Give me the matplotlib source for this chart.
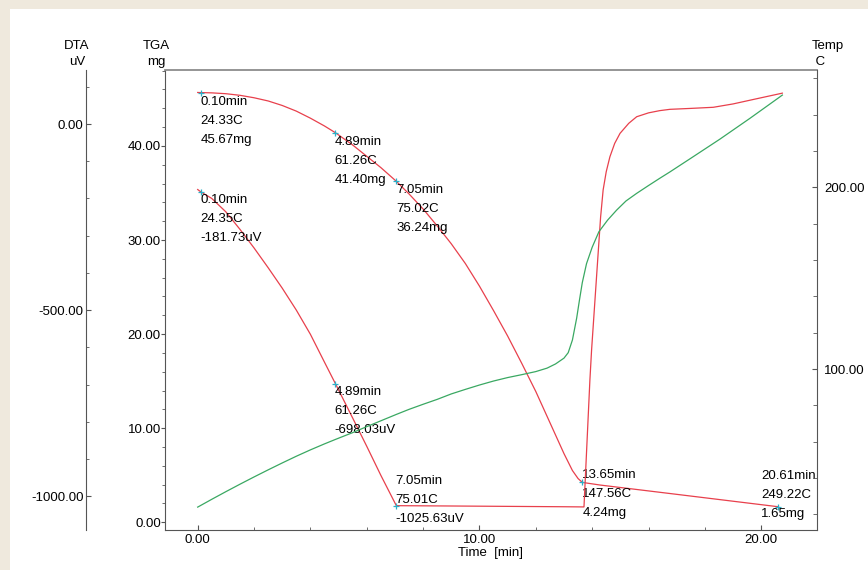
import matplotlib
matplotlib.use("Agg")
import matplotlib.pyplot as plt
from matplotlib.patches import Rectangle
from matplotlib.ticker import MultipleLocator, FormatStrFormatter

plt.rcParams['font.family'] = ['Liberation Sans', 'DejaVu Sans']

# --- data ---
temp_t = [0.0, 0.5, 1.0, 1.5, 2.0, 2.5, 3.0, 3.5, 4.0, 4.5, 4.89, 5.5, 6.0, 6.5, 7.05,
          7.5, 8.0, 8.5, 9.0, 9.5, 10.0, 10.5, 11.0, 11.5, 12.0, 12.4, 12.7, 13.0,
          13.15, 13.3, 13.45, 13.55, 13.65, 13.8, 14.0, 14.24, 14.55, 14.87, 15.2,
          15.58, 16.0, 16.4, 16.76, 17.5, 18.53, 19.6, 20.61, 20.75]
temp_c = [24.0, 28.3, 32.5, 36.6, 40.6, 44.5, 48.3, 52.0, 55.5, 58.8, 61.26, 65.0, 68.3,
          71.5, 75.02, 77.8, 80.6, 83.3, 86.3, 88.8, 91.2, 93.4, 95.3, 96.9, 98.6,
          100.5, 102.8, 106.0, 109.0, 116.0, 128.0, 138.0, 147.56, 158.0, 167.0, 175.6,
          182.0, 187.5, 192.5, 196.7, 201.0, 205.0, 208.5, 216.0, 226.5, 238.0, 249.22,
          250.8]

tga_t = [0.0, 0.1, 0.5, 1.0, 1.5, 2.0, 2.5, 3.0, 3.5, 4.0, 4.5, 4.89, 5.5, 6.0, 6.5,
         7.05, 7.5, 8.0, 8.5, 9.0, 9.5, 10.0, 10.5, 11.0, 11.5, 12.0, 12.5, 13.0, 13.3,
         13.5, 13.65, 14.28, 17.0, 20.61]
tga_mg = [45.68, 45.67, 45.64, 45.55, 45.38, 45.12, 44.78, 44.30, 43.70, 42.95, 42.12,
          41.40, 40.1, 38.9, 37.7, 36.24, 34.9, 33.3, 31.5, 29.6, 27.5, 25.1, 22.5, 19.8,
          16.9, 13.9, 10.6, 7.3, 5.5, 4.65, 4.24, 3.96, 2.97, 1.65]

dta_t = [0.0, 0.1, 0.5, 1.0, 1.5, 2.0, 2.5, 3.0, 3.5, 4.0, 4.5, 4.89, 5.5, 6.0, 6.5,
         7.05, 9.0, 11.0, 13.0, 13.71, 13.92, 13.98, 14.10, 14.22, 14.30, 14.39, 14.50,
         14.63, 14.80, 14.99, 15.3, 15.58, 16.0, 16.4, 16.76, 17.5, 18.3, 19.0, 19.72,
         20.75]
dta_uv = [-176, -181.73, -200, -236, -283, -333, -386, -441, -500, -565, -640, -698.03,
          -790, -866, -944, -1025.63, -1026.5, -1027.5, -1028.5, -1029, -688, -607,
          -473, -339, -250, -177, -128, -88, -52, -25, 2, 19.6, 30, 36, 39.5, 42, 45,
          54, 66, 83]

# marked points: time, temperature, value
tga_mark_t = [0.10, 4.89, 7.05, 13.65, 20.61]
tga_mark_temp = [24.33, 61.26, 75.02, 147.56, 249.22]
tga_mark_mg = [45.67, 41.40, 36.24, 4.24, 1.65]
dta_mark_t = [0.10, 4.89, 7.05]
dta_mark_temp = [24.35, 61.26, 75.01]
dta_mark_uv = [-181.73, -698.03, -1025.63]

# text offsets from the marker in pixels (dx right, dy down)
tga_offsets = [(0, 3), (-1, 3), (0, 3), (0, -13), (-17, -37)]
dta_offsets = [(0, 2), (-1, 2), (-1, -31)]

W, H = 868, 570
RED = '#e8404c'
GREEN = '#3aa862'
CROSS = '#2ab0c8'
AXC = '#555555'
FS = 9.5
LS = 1.78

fig = plt.figure(figsize=(W / 100, H / 100), dpi=100)
fig.patch.set_facecolor('#efe9dd')
fig.add_artist(Rectangle((10 / W, 0), 1, (H - 9) / H, transform=fig.transFigure,
                         facecolor='white', edgecolor='none', zorder=0))

ax = fig.add_axes([165 / W, (H - 530) / H, (817 - 165) / W, (530 - 70) / H])
ax.patch.set_alpha(0)
dta = ax.twinx()
tmp = ax.twinx()

ax.set_xlim(-1.16, 21.98)
ax.set_ylim(-0.82, 48.07)
dta.set_ylim(-1091, 145.2)
tmp.set_ylim(11.4, 264.6)

# spines
for a in (ax, dta, tmp):
    for s in a.spines.values():
        s.set_visible(False)
ax.spines['left'].set_visible(True)
ax.spines['bottom'].set_visible(True)
ax.spines['top'].set_visible(True)
ax.spines['top'].set_color('#8c8c8c')
ax.spines['top'].set_linewidth(1.3)
ax.spines['left'].set_color(AXC)
ax.spines['bottom'].set_color(AXC)
tmp.spines['right'].set_visible(True)
tmp.spines['right'].set_color(AXC)
dta.spines['left'].set_visible(True)
dta.spines['left'].set_color(AXC)
dta.spines['left'].set_position(('axes', -(165 - 85.7) / (817 - 165)))
dta.yaxis.set_ticks_position('left')

# ticks
fmt = FormatStrFormatter('%.2f')
ax.xaxis.set_major_locator(MultipleLocator(10))
ax.xaxis.set_minor_locator(MultipleLocator(2))
ax.xaxis.set_major_formatter(fmt)
ax.tick_params(axis='x', which='both', direction='in', colors=AXC, labelcolor='black',
               labelsize=FS, pad=3)
ax.tick_params(axis='x', which='major', length=3.5)
ax.tick_params(axis='x', which='minor', length=2.5)

ax.yaxis.set_major_locator(MultipleLocator(10))
ax.yaxis.set_minor_locator(MultipleLocator(2))
ax.yaxis.set_major_formatter(fmt)
ax.tick_params(axis='y', which='both', direction='out', colors=AXC, labelcolor='black',
               labelsize=FS, pad=0)
ax.tick_params(axis='y', which='major', length=3)
ax.tick_params(axis='y', which='minor', length=2.5)

dta.yaxis.set_major_locator(MultipleLocator(500))
dta.yaxis.set_minor_locator(MultipleLocator(100))
dta.yaxis.set_major_formatter(fmt)
dta.tick_params(axis='y', which='both', direction='in', colors=AXC, labelcolor='black',
                labelsize=FS, pad=1.5, left=True, right=False, labelleft=True,
                labelright=False)
dta.tick_params(axis='y', which='major', length=3.5)
dta.tick_params(axis='y', which='minor', length=2.5)

tmp.yaxis.set_major_locator(MultipleLocator(100))
tmp.yaxis.set_minor_locator(MultipleLocator(20))
tmp.yaxis.set_major_formatter(fmt)
tmp.tick_params(axis='y', which='both', direction='in', colors=AXC, labelcolor='black',
                labelsize=FS, pad=5)
tmp.tick_params(axis='y', which='major', length=3.5)
tmp.tick_params(axis='y', which='minor', length=3)

# curves
tmp.plot(temp_t, temp_c, color=GREEN, lw=0.9)
ax.plot(tga_t, tga_mg, color=RED, lw=0.9)
dta.plot(dta_t, dta_uv, color=RED, lw=0.9)

# markers and labels
ax.plot(tga_mark_t, tga_mark_mg, ls='none', marker='+', ms=5, mew=0.9, color=CROSS)
dta.plot(dta_mark_t, dta_mark_uv, ls='none', marker='+', ms=5, mew=0.9, color=CROSS)

for t, c, v, (dx, dy) in zip(tga_mark_t, tga_mark_temp, tga_mark_mg, tga_offsets):
    ax.annotate(f'{t:.2f}min\n{c:.2f}C\n{v:.2f}mg', xy=(t, v), xytext=(dx, -dy),
                textcoords='offset pixels', ha='left', va='top', fontsize=FS,
                linespacing=LS, annotation_clip=False)
for t, c, v, (dx, dy) in zip(dta_mark_t, dta_mark_temp, dta_mark_uv, dta_offsets):
    dta.annotate(f'{t:.2f}min\n{c:.2f}C\n{v:.2f}uV', xy=(t, v), xytext=(dx, -dy),
                 textcoords='offset pixels', ha='left', va='top', fontsize=FS,
                 linespacing=LS, annotation_clip=False)

# axis titles
def ftext(x, y, s, **kw):
    fig.text(x / W, 1 - y / H, s, fontsize=FS, **kw)

ftext(77, 54, 'DTA\nuV', ha='center', va='center', linespacing=1.45)
ftext(156, 54, 'TGA\nmg', ha='center', va='center', linespacing=1.45)
ftext(812, 54, 'Temp\n C', ha='left', va='center', linespacing=1.45)
ftext(490, 553, 'Time  [min]', ha='center', va='center')

fig.savefig('out.png', dpi=100, facecolor=fig.get_facecolor())
